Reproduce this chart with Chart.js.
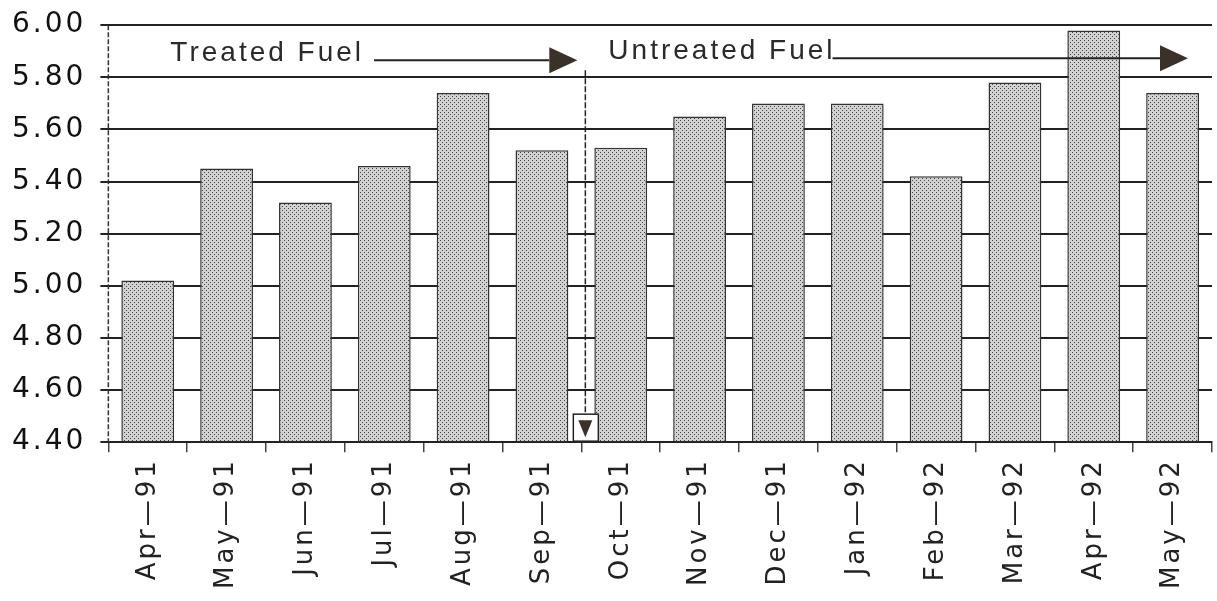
<!DOCTYPE html>
<html>
<head>
<meta charset="utf-8">
<script src="https://cdn.jsdelivr.net/npm/chart.js@4.4.0/dist/chart.umd.min.js"></script>
<style>
  html,body{margin:0;padding:0;background:#fff;}
  #wrap{width:1217px;height:601px;position:relative;}
</style>
</head>
<body>
<div id="wrap"><canvas id="chart"></canvas></div>
<script>
const MONTHS = ["Apr—91","May—91","Jun—91","Jul—91","Aug—91","Sep—91","Oct—91","Nov—91","Dec—91","Jan—92","Feb—92","Mar—92","Apr—92","May—92"];
const VALUES = [5.02, 5.45, 5.32, 5.46, 5.74, 5.52, 5.53, 5.65, 5.70, 5.70, 5.42, 5.78, 5.98, 5.74];
const Y_MIN = 4.40, Y_MAX = 6.00, Y_STEP = 0.20;
const PHASES = ["Treated Fuel", "Untreated Fuel"];
const SPLIT_AFTER = 5; // last treated month index (Sep-91)

// stippled fill like the old printout
function stipple(){
  const c = document.createElement('canvas');
  c.width = 4; c.height = 4;
  const g = c.getContext('2d');
  g.fillStyle = '#d2d2d2'; g.fillRect(0,0,4,4);
  g.fillStyle = '#444';
  g.fillRect(0,0,1,1); g.fillRect(2,2,1,1);
  return g.createPattern(c,'repeat');
}

function arrowHead(ctx, x, y, dir){
  // dir: 1 = right, 2 = down
  ctx.save();
  ctx.fillStyle = '#3a3228';
  ctx.beginPath();
  if(dir === 1){
    ctx.moveTo(x, y-13); ctx.lineTo(x+28, y); ctx.lineTo(x, y+13);
  } else {
    ctx.moveTo(x-7, y-17); ctx.lineTo(x+7, y-17); ctx.lineTo(x, y);
  }
  ctx.closePath(); ctx.fill();
  ctx.restore();
}

// wide old-printer lettering
const spacingPlugin = {
  id:'spacing',
  beforeLayout(chart){ chart.ctx.letterSpacing = '3px'; },
  beforeDraw(chart){ chart.ctx.letterSpacing = '3px'; }
};

const phasePlugin = {
  id:'phases',
  afterDatasetsDraw(chart){
    const {ctx, chartArea, scales} = chart;
    const xs = scales.x, ys = scales.y;
    const splitX = (xs.getPixelForValue(SPLIT_AFTER) + xs.getPixelForValue(SPLIT_AFTER+1))/2 + 4;
    const base = ys.getPixelForValue(Y_MIN);
    const top = chartArea.top;
    ctx.save();
    // dashed y axis line
    ctx.strokeStyle = '#333'; ctx.lineWidth = 1.5;
    ctx.setLineDash([5,2]);
    ctx.beginPath(); ctx.moveTo(chartArea.left, top); ctx.lineTo(chartArea.left, base); ctx.stroke();
    ctx.setLineDash([]);

    ctx.font = '28px "Liberation Sans", Arial, sans-serif';
    ctx.fillStyle = '#2a2a2a';
    ctx.textBaseline = 'alphabetic';
    ctx.strokeStyle = '#222'; ctx.lineWidth = 2;
    // treated
    const tx = chartArea.left + 62;
    ctx.fillText(PHASES[0], tx, top + 36);
    const w0 = ctx.measureText(PHASES[0]).width;
    ctx.beginPath(); ctx.moveTo(tx + w0 + 10, top + 35); ctx.lineTo(splitX - 36, top + 35); ctx.stroke();
    arrowHead(ctx, splitX - 36, top + 35, 1);
    // untreated
    const ux = splitX + 23;
    ctx.fillText(PHASES[1], ux, top + 34);
    const w1 = ctx.measureText(PHASES[1]).width;
    ctx.beginPath(); ctx.moveTo(ux + w1 - 3, top + 33); ctx.lineTo(chartArea.right - 52, top + 33); ctx.stroke();
    arrowHead(ctx, chartArea.right - 52, top + 33, 1);
    // divider
    ctx.lineWidth = 1.5;
    ctx.setLineDash([6,2]);
    ctx.beginPath(); ctx.moveTo(splitX, top + 45); ctx.lineTo(splitX, base - 28); ctx.stroke();
    ctx.setLineDash([]);
    ctx.fillStyle = '#fff';
    ctx.fillRect(splitX - 12, base - 28, 25, 27);
    ctx.strokeRect(splitX - 12, base - 28, 25, 27);
    arrowHead(ctx, splitX, base - 5, 2);
    ctx.restore();
  }
};

new Chart(document.getElementById('chart'), {
  type:'bar',
  data:{
    labels: MONTHS,
    datasets:[{
      data: VALUES,
      backgroundColor: stipple(),
      borderColor:'#333',
      borderWidth:1.5,
      barPercentage:0.67,
      categoryPercentage:1.0,
      base: Y_MIN
    }]
  },
  options:{
    responsive:true,
    maintainAspectRatio:false,
    animation:false,
    layout:{ padding:{ top:0, right:5, bottom:6, left:-2 } },
    plugins:{ legend:{display:false}, tooltip:{enabled:false} },
    scales:{
      x:{
        grid:{ display:true, offset:true, drawOnChartArea:false, tickLength:10, color:'#444', lineWidth:1.5 },
        border:{ display:true, color:'#222', width:2 },
        ticks:{ minRotation:90, maxRotation:90, padding:6, color:'#222', font:{ family:'"DejaVu Sans", sans-serif', size:26 } }
      },
      y:{
        min:Y_MIN, max:Y_MAX,
        grid:{ color:'#222', lineWidth:2, tickLength:8 },
        border:{ display:false },
        ticks:{ stepSize:Y_STEP, padding:14, color:'#111', font:{ family:'"DejaVu Sans", sans-serif', size:28, lineHeight:0.8 },
          callback:(v)=> Number(v).toFixed(2) }
      }
    }
  },
  plugins:[spacingPlugin, phasePlugin]
});
</script>
</body>
</html>
